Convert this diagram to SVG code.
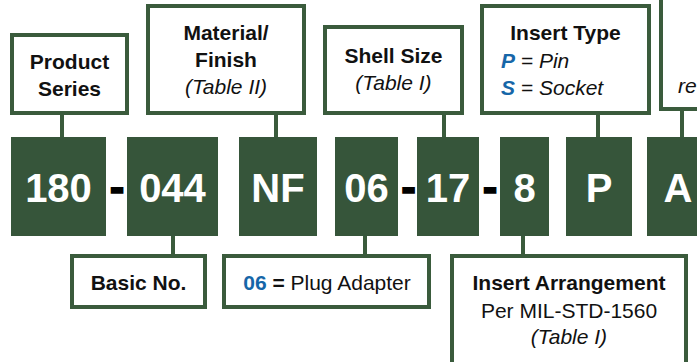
<svg xmlns="http://www.w3.org/2000/svg" width="697" height="362" viewBox="0 0 697 362">
<style>
.lbl{fill:#fff;stroke:#3a5b3c;stroke-width:4}
.blk{fill:#36553a}
.con{stroke:#3a5b3c;stroke-width:4;fill:none}
text{font-family:"Liberation Sans",Arial,sans-serif}
.t{font-size:21px;fill:#111;text-anchor:middle}
.s{text-anchor:start}
.b{font-weight:bold}
.i{font-style:italic}
.big{font-size:40px;font-weight:bold;fill:#fff;text-anchor:middle}
.dash{font-size:44px;font-weight:bold;fill:#000;stroke:#000;stroke-width:1.5;text-anchor:middle}
.blue{fill:#1666a8;font-weight:bold}
</style>
<rect width="697" height="362" fill="#fff"/>
<g id="connectors">
<line class="con" x1="62" y1="115" x2="62" y2="138"/>
<line class="con" x1="276" y1="115" x2="276" y2="138"/>
<line class="con" x1="444" y1="115" x2="444" y2="138"/>
<line class="con" x1="598" y1="115" x2="598" y2="138"/>
<line class="con" x1="682" y1="111" x2="682" y2="138"/>
<line class="con" x1="173" y1="235" x2="173" y2="255"/>
<line class="con" x1="365" y1="235" x2="365" y2="255"/>
<line class="con" x1="523" y1="235" x2="523" y2="255"/>
</g>
<g id="code">
<g id="c180"><rect class="blk" x="11" y="137" width="95" height="99"/><text class="big" x="58.5" y="202">180</text></g>
<text class="dash" x="117" y="202">-</text>
<g id="c044"><rect class="blk" x="127" y="137" width="91" height="99"/><text class="big" x="172.5" y="202">044</text></g>
<g id="cNF"><rect class="blk" x="239" y="137" width="78" height="99"/><text class="big" x="278" y="202">NF</text></g>
<g id="c06"><rect class="blk" x="335" y="137" width="63" height="99"/><text class="big" x="366.5" y="202">06</text></g>
<text class="dash" x="408.5" y="202">-</text>
<g id="c17"><rect class="blk" x="417" y="137" width="62" height="99"/><text class="big" x="448" y="202">17</text></g>
<text class="dash" x="490" y="202">-</text>
<g id="c8"><rect class="blk" x="500" y="137" width="49" height="99"/><text class="big" x="524.5" y="202">8</text></g>
<g id="cP"><rect class="blk" x="566" y="137" width="66" height="99"/><text class="big" x="599" y="202">P</text></g>
<g id="cA"><rect class="blk" x="647" y="137" width="60" height="99"/><text class="big" x="678" y="202">A</text></g>
</g>
<g id="product-series"><rect class="lbl" x="12" y="35" width="115" height="78"/><text class="t b" x="69.5" y="69">Product</text><text class="t b" x="69.5" y="95.5">Series</text></g>
<g id="material-finish"><rect class="lbl" x="148" y="6" width="156" height="107"/><text class="t b" x="226" y="39.5">Material/</text><text class="t b" x="226" y="66.5">Finish</text><text class="t i" x="226" y="93.5">(Table II)</text></g>
<g id="shell-size"><rect class="lbl" x="325" y="27" width="137" height="86"/><text class="t b" x="393.5" y="62.5">Shell Size</text><text class="t i" x="393.5" y="89.5">(Table I)</text></g>
<g id="insert-type"><rect class="lbl" x="482" y="6" width="167" height="107"/><text class="t b" x="565.5" y="40">Insert Type</text><text class="t i s" x="501" y="67.5"><tspan class="blue">P</tspan> = Pin</text><text class="t i s" x="501" y="95"><tspan class="blue">S</tspan> = Socket</text></g>
<g id="alt-box"><rect class="lbl" x="661" y="-10" width="60" height="119"/><text class="t i s" x="678" y="93">re</text></g>
<g id="basic-no"><rect class="lbl" x="72" y="256" width="133" height="51"/><text class="t b" x="138.5" y="290">Basic No.</text></g>
<g id="plug-adapter"><rect class="lbl" x="224" y="256" width="205" height="51"/><text class="t" x="327" y="289.5"><tspan class="blue">06</tspan><tspan font-weight="bold"> =</tspan> Plug Adapter</text></g>
<g id="insert-arrangement"><rect class="lbl" x="452" y="256" width="234" height="120"/><text class="t b" x="569" y="290">Insert Arrangement</text><text class="t" x="569" y="317.5">Per MIL-STD-1560</text><text class="t i" x="569" y="344">(Table I)</text></g>
</svg>
